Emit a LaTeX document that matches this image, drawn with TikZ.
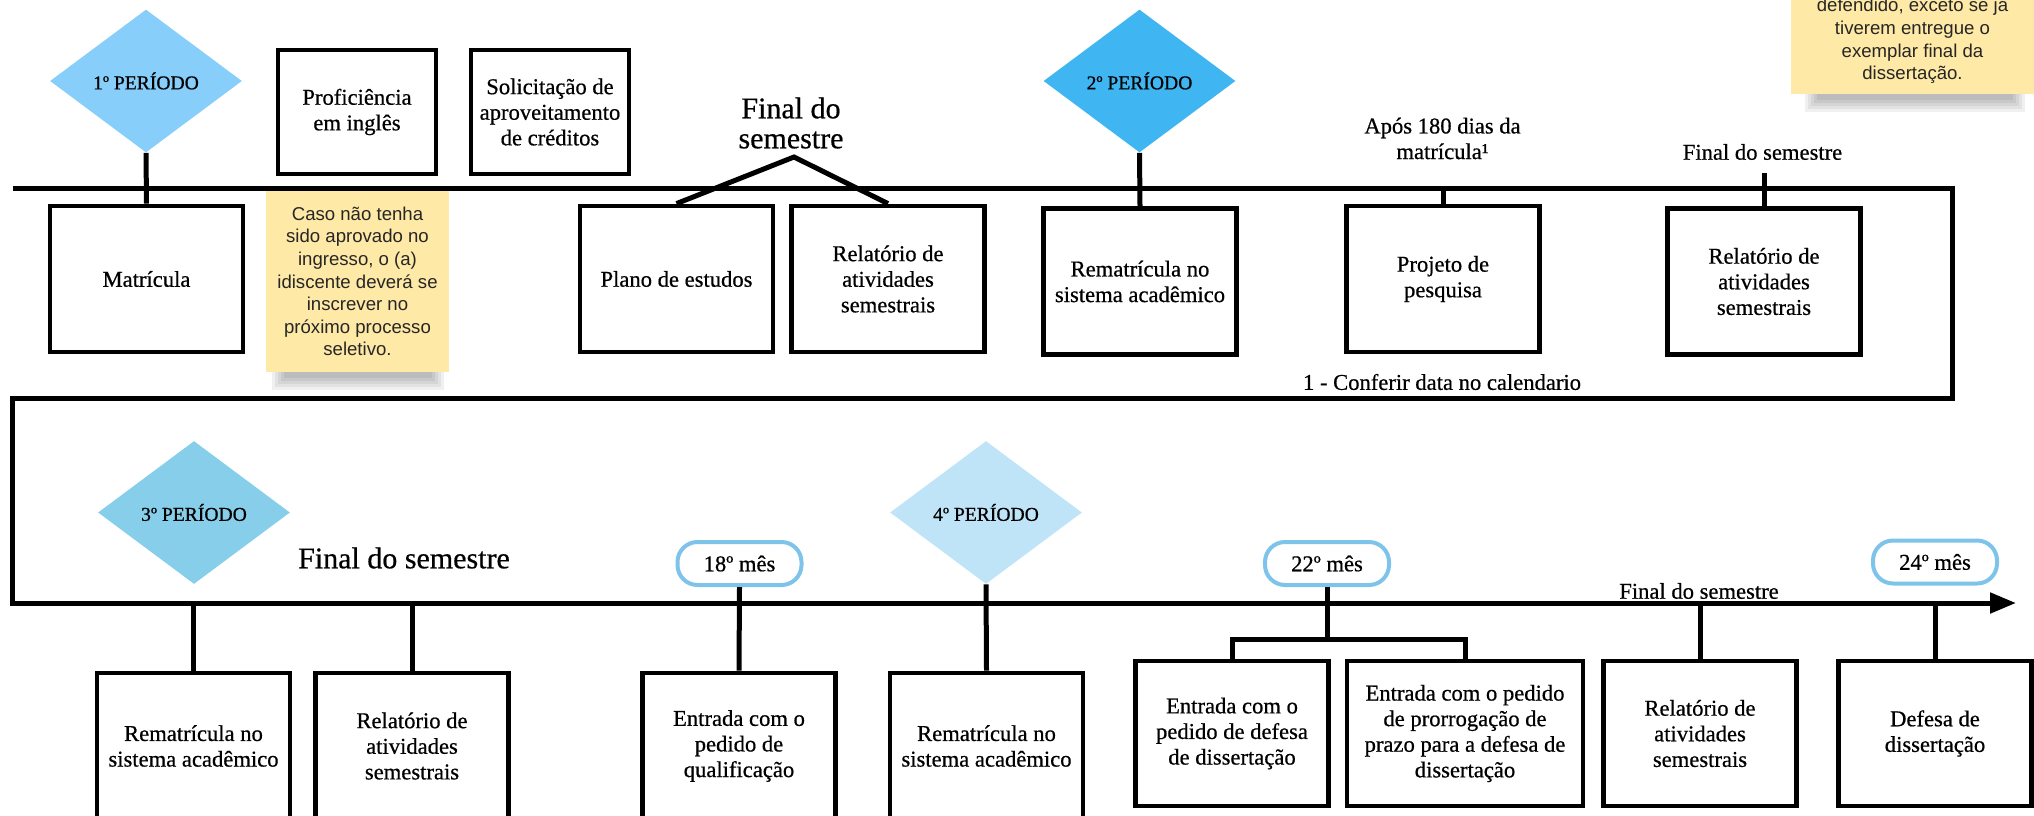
\documentclass[tikz,border=0pt]{standalone}
\usepackage{fontspec}
\setmainfont{Liberation Serif}[FakeBold=0.6]
\newfontfamily\notafont{Liberation Sans}
\usetikzlibrary{shapes.geometric,arrows.meta}
\definecolor{azulA}{HTML}{87CEFA}
\definecolor{azulB}{HTML}{3FB5F1}
\definecolor{azulC}{HTML}{87CEEB}
\definecolor{azulD}{HTML}{C0E4F7}
\definecolor{bordames}{HTML}{7DC3EA}
\definecolor{amarelo}{HTML}{FFE9A6}
\tikzset{
  caixa/.style={draw, line width=2.4pt, align=center, inner sep=2pt, minimum width=96.5pt, minimum height=73pt, font=\fontsize{11.3}{12.8}\selectfont},
  periodo/.style={diamond, fill=#1, aspect=1.34, inner sep=0pt, minimum width=96pt, minimum height=71.5pt, font=\fontsize{9.8}{11}\selectfont},
  mes/.style={draw=bordames, line width=2pt, rounded corners=10pt, minimum width=62pt, minimum height=21.5pt, inner sep=0pt, font=\fontsize{11.3}{12.8}\selectfont},
  nota/.style={fill=amarelo, align=center, text=black!85, font=\notafont\fontsize{9.3}{11.3}\selectfont, minimum width=91.5pt},
  rotulo/.style={align=center, inner sep=0pt, font=\fontsize{11.3}{12.8}\selectfont},
  titulo/.style={align=center, inner sep=0pt, font=\fontsize{15}{15}\selectfont},
  linha/.style={line width=2.5pt}
}
\begin{document}
\begin{tikzpicture}[x=.5pt,y=-.5pt]
        \useasboundingbox (0,0) rectangle (2034,815);
        \clip (0,0) rectangle (2034,815);
        \coordinate (eixoA) at (0,188);
        \coordinate (eixoC) at (0,603);
        \draw[linha,-{Triangle[length=13pt,width=10pt]}] (12.5,188) -- (1952.5,188) -- (1952.5,398) -- (12.5,398) -- (12.5,603) -- (2016,603);

        \node[periodo=azulA] (p1) at (146,81) {1º PERÍODO};
        \node[caixa] (matricula) at (146.5,279) {Matrícula};
        \node[caixa,minimum width=79pt,minimum height=62pt] (ingles) at (357,112) {Proficiência\\em inglês};
        \node[caixa,minimum width=79pt,minimum height=62pt] (creditos) at (550,112) {Solicitação de\\aproveitamento\\de créditos};
        \foreach \s in {0,3,...,12}
          \fill[black,opacity=.06] (272+\s,362) rectangle (444-\s,390-\s);
        \node[nota,minimum height=90.5pt] (nota1) at (357.5,281.5) {Caso não tenha\\sido aprovado no\\ingresso, o (a)\\idiscente deverá se\\inscrever no\\próximo processo\\seletivo.};
        \node[titulo] (fimA) at (791,123) {Final do\\semestre};
        \coordinate (topo) at (794,157);
        \node[caixa] (plano) at (676.5,279) {Plano de estudos};
        \node[caixa] (relatorioA) at (888,279) {Relatório de\\atividades\\semestrais};
        \node[periodo=azulB] (p2) at (1139.5,81) {2º PERÍODO};
        \node[caixa] (rematriculaA) at (1140,281.5) {Rematrícula no\\sistema acadêmico};
        \node[rotulo] (apos) at (1442.5,138.5) {Após 180 dias da\\matrícula¹};
        \node[caixa] (projeto) at (1443,279) {Projeto de\\pesquisa};
        \node[rotulo] (fimB) at (1762.5,152) {Final do semestre};
        \coordinate (marcaB) at (1764,173);
        \node[caixa] (relatorioB) at (1764,281.5) {Relatório de\\atividades\\semestrais};
        \node[rotulo] (conferir) at (1442,382) {1 - Conferir data no calendario};
        \foreach \s in {0,3,...,12}
          \fill[black,opacity=.06] (1805+\s,84) rectangle (2025-\s,112-\s);
        \node[nota,anchor=south,minimum width=121.5pt,inner ysep=5pt] (nota2) at (1912.5,94) {defendido, exceto se já\\tiverem entregue o\\exemplar final da\\dissertação.};

        \node[periodo=azulC] (p3) at (194,512.5) {3º PERÍODO};
        \node[titulo] (fimC) at (404,558) {Final do semestre};
        \node[caixa] (rematriculaB) at (193.5,746) {Rematrícula no\\sistema acadêmico};
        \node[caixa] (relatorioC) at (412,746) {Relatório de\\atividades\\semestrais};
        \node[mes] (m18) at (739.5,563.5) {18º mês};
        \node[caixa] (qualificacao) at (739,746) {Entrada com o\\pedido de\\qualificação};
        \node[periodo=azulD] (p4) at (986,512.5) {4º PERÍODO};
        \node[caixa] (rematriculaC) at (986.5,746) {Rematrícula no\\sistema acadêmico};
        \node[mes] (m22) at (1327,563.5) {22º mês};
        \coordinate (garfo) at (1327,639);
        \node[caixa,minimum height=72.5pt] (pedidoDefesa) at (1232,733.5) {Entrada com o\\pedido de defesa\\de dissertação};
        \node[caixa,minimum width=118pt,minimum height=72.5pt] (prorrogacao) at (1465,733.5) {Entrada com o pedido\\de prorrogação de\\prazo para a defesa de\\dissertação};
        \node[rotulo] (fimD) at (1699,591) {Final do semestre};
        \node[caixa,minimum height=72.5pt] (relatorioD) at (1700,733.5) {Relatório de\\atividades\\semestrais};
        \node[mes] (m24) at (1935,562) {24º mês};
        \node[caixa,minimum height=72.5pt] (defesa) at (1935,733.5) {Defesa de\\dissertação};

        \draw[linha] (p1.south) -- (matricula.north);
        \draw[linha] (plano.north) -- (topo) -- (relatorioA.north);
        \draw[linha] (p2.south) -- (rematriculaA.north);
        \draw[linha] (projeto.north |- eixoA) -- (projeto.north);
        \draw[linha] (marcaB) -- (relatorioB.north);
        \draw[linha] (rematriculaB.north |- eixoC) -- (rematriculaB.north);
        \draw[linha] (relatorioC.north |- eixoC) -- (relatorioC.north);
        \draw[linha] (m18.south) -- (qualificacao.north);
        \draw[linha] (p4.south) -- (rematriculaC.north);
        \draw[linha] (m22.south) -- (garfo);
        \draw[linha] (pedidoDefesa.north) |- (garfo) -| (prorrogacao.north);
        \draw[linha] (relatorioD.north |- eixoC) -- (relatorioD.north);
        \draw[linha] (defesa.north |- eixoC) -- (defesa.north);
      \end{tikzpicture}
\end{document}
